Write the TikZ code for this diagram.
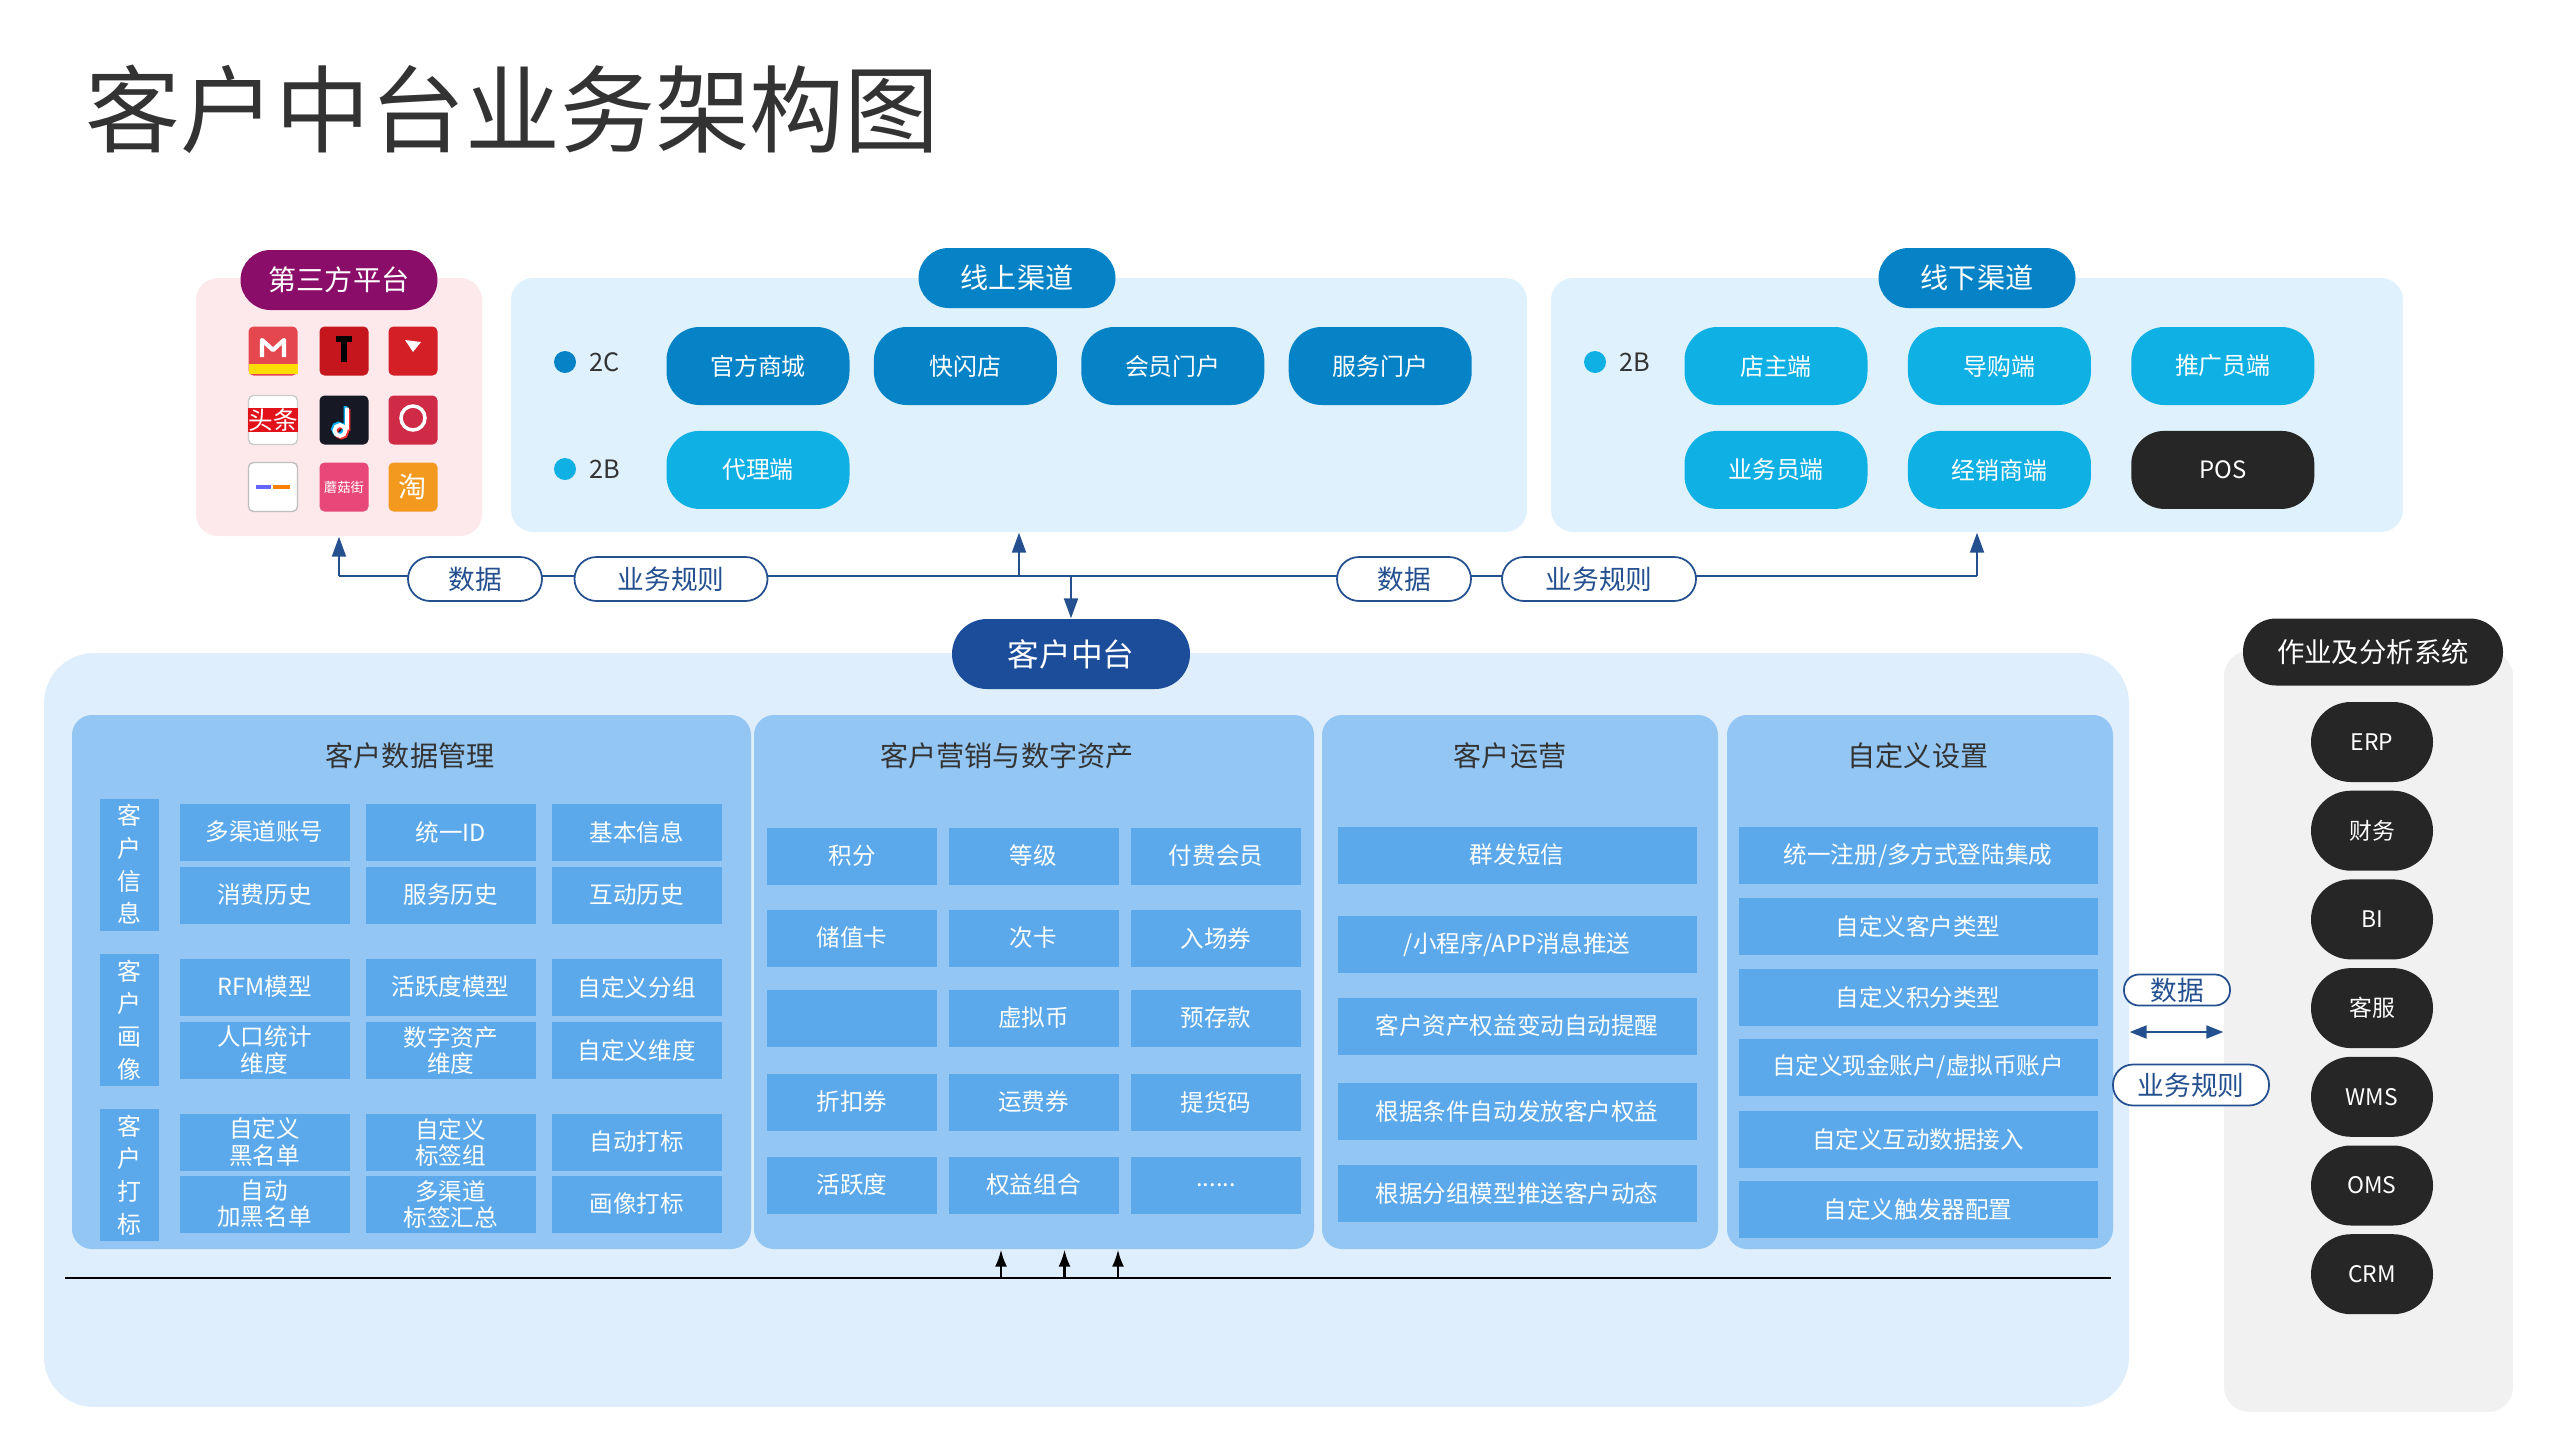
\documentclass[tikz,border=0pt]{standalone}
\usepackage{fontspec}
\setmainfont{Noto Sans CJK SC}
\usepackage{tikz}
\usetikzlibrary{positioning, arrows.meta}

\definecolor{chanblue}{HTML}{0683C6}
\definecolor{chancyan}{HTML}{0FB0E3}
\definecolor{hubblue}{HTML}{1B4D9B}
\definecolor{linkblue}{HTML}{24508F}
\definecolor{plum}{HTML}{8B0D6A}
\definecolor{pinkbg}{HTML}{FDE8EC}
\definecolor{chanbg}{HTML}{DFF1FC}
\definecolor{hubbg}{HTML}{DFEEFC}
\definecolor{panelblue}{HTML}{93C6F3}
\definecolor{cellblue}{HTML}{5BA9EB}
\definecolor{inkgray}{HTML}{333333}
\definecolor{sysblack}{HTML}{262626}
\definecolor{sysgray}{HTML}{F1F1F1}

\begin{document}
\begin{tikzpicture}[x=1cm, y=-1cm,
    area/.style={rectangle, rounded corners=0.22cm, inner sep=0pt},
    headpill/.style={rectangle, rounded corners=0.3cm, minimum width=1.97cm, minimum height=0.6cm, inner sep=0pt, text=white, font=\fontsize{8}{9}\selectfont},
    chan/.style={rectangle, rounded corners=0.33cm, minimum width=1.83cm, minimum height=0.78cm, inner sep=0pt, text=white, font=\fontsize{6.8}{8}\selectfont},
    dot/.style={circle, minimum size=0.22cm, inner sep=0pt},
    legend/.style={inner sep=0pt, text=inkgray, font=\fontsize{7.2}{9}\selectfont},
    tag/.style={rectangle, rounded corners=0.22cm, draw=linkblue, line width=0.5pt, fill=white, text=linkblue, minimum height=0.44cm, inner sep=1pt, font=\fontsize{7.6}{9}\selectfont},
    hubpill/.style={rectangle, rounded corners=0.35cm, fill=hubblue, text=white, minimum width=2.38cm, minimum height=0.7cm, inner sep=0pt, font=\fontsize{9}{10}\selectfont},
    panel/.style={rectangle, rounded corners=0.2cm, fill=panelblue, minimum height=5.34cm, inner sep=0pt},
    paneltitle/.style={inner sep=0pt, text=inkgray, font=\fontsize{8}{9}\selectfont},
    cell/.style={rectangle, fill=cellblue, text=white, minimum width=1.7cm, minimum height=0.57cm, inner sep=0pt, align=center, font=\fontsize{6.7}{7.4}\selectfont},
    widecell/.style={cell, minimum width=3.59cm},
    sidetag/.style={cell, minimum width=0.59cm, minimum height=1.32cm, font=\fontsize{6.8}{9.3}\selectfont},
    syshead/.style={rectangle, rounded corners=0.33cm, fill=sysblack, text=white, minimum width=2.6cm, minimum height=0.67cm, inner sep=0pt, font=\fontsize{7.8}{9}\selectfont},
    sys/.style={rectangle, rounded corners=0.4cm, fill=sysblack, text=white, minimum width=1.22cm, minimum height=0.8cm, inner sep=0pt, font=\fontsize{6.5}{8}\selectfont},
    icon/.style={rectangle, rounded corners=0.05cm, minimum size=0.49cm, inner sep=0pt},
    link/.style={linkblue, line width=0.6pt},
    tip/.style={-{Triangle[length=0.2cm, width=0.14cm]}}
]

\useasboundingbox (0,0) rectangle (25.6,14.4);

\node[anchor=west, inner sep=0pt, text=inkgray, font=\fontsize{27}{30}\selectfont] (title) at (0.85,1.09) {客户中台业务架构图};

\node[area, fill=pinkbg, minimum width=2.86cm, minimum height=2.58cm] (third) at (3.39,4.07) {};
\node[area, fill=chanbg, minimum width=10.16cm, minimum height=2.54cm] (online) at (10.19,4.05) {};
\node[area, fill=chanbg, minimum width=8.52cm, minimum height=2.54cm] (offline) at (19.77,4.05) {};

\node[headpill, fill=plum] (thirdHead) at (3.39,2.80) {第三方平台};
\node[headpill, fill=chanblue] (onlineHead) at (10.17,2.78) {线上渠道};
\node[headpill, fill=chanblue] (offlineHead) at (19.77,2.78) {线下渠道};

\node[icon, fill={rgb,255:red,229;green,71;blue,79}] (icMall) at (2.73,3.51) {};
\fill[yellow!80!orange] (2.485,3.64) rectangle (2.975,3.74);
\draw[white, line width=1.2pt, line join=round] (2.62,3.57) -- (2.62,3.40) -- (2.73,3.50) -- (2.84,3.40) -- (2.84,3.57);
\node[icon, fill={rgb,255:red,196;green,22;blue,28}] (icTmall) at (3.44,3.51) {};
\fill[black] (3.36,3.36) rectangle (3.52,3.42);
\fill[black] (3.41,3.42) rectangle (3.47,3.62);
\node[icon, fill={rgb,255:red,212;green,31;blue,38}] (icJd) at (4.13,3.51) {};
\fill[white] (4.05,3.40) -- (4.21,3.42) -- (4.13,3.52) -- cycle;
\node[icon, fill=white, draw=gray!40] (icNews) at (2.73,4.20) {};
\node[fill={rgb,255:red,226;green,18;blue,26}, text=white, minimum width=0.49cm, minimum height=0.24cm, inner sep=0pt, font=\fontsize{7}{8}\selectfont] (icNewsTxt) at (2.73,4.20) {头条};
\node[icon, fill={rgb,255:red,22;green,24;blue,35}] (icTok) at (3.44,4.20) {};
\draw[cyan, line width=1.1pt] (3.455,4.06) -- (3.455,4.28) (3.385,4.29) circle (0.055);
\draw[red!80, line width=1.1pt] (3.485,4.09) -- (3.485,4.31) (3.415,4.32) circle (0.055);
\draw[white, line width=1.1pt] (3.47,4.075) -- (3.47,4.295) (3.40,4.305) circle (0.055);
\node[icon, fill={rgb,255:red,207;green,43;blue,71}] (icKoala) at (4.13,4.20) {};
\draw[white, line width=1pt] (4.13,4.18) circle (0.12);
\node[icon, fill=white, draw=gray!50] (icShop) at (2.73,4.87) {};
\fill[blue!60] (2.56,4.85) rectangle (2.71,4.89);
\fill[orange] (2.73,4.85) rectangle (2.90,4.89);
\node[icon, fill={rgb,255:red,232;green,71;blue,122}, text=white, font=\fontsize{3.8}{4}\selectfont] (icMogu) at (3.44,4.87) {蘑菇街};
\node[icon, fill={rgb,255:red,243;green,154;blue,30}, text=white, font=\fontsize{8}{9}\selectfont] (icTao) at (4.13,4.87) {淘};

\node[dot, fill=chanblue] (dot2C) at (5.65,3.62) {};
\node[legend, right=0.12cm of dot2C] (lbl2C) {2C};
\node[dot, fill=chancyan] (dot2B) at (5.65,4.69) {};
\node[legend, right=0.12cm of dot2B] (lbl2B) {2B};

\node[chan, fill=chanblue] (shop) at (7.58,3.66) {官方商城};
\node[chan, fill=chanblue, right=0.23cm of shop] (popup) {快闪店};
\node[chan, fill=chanblue, right=0.23cm of popup] (member) {会员门户};
\node[chan, fill=chanblue, right=0.23cm of member] (service) {服务门户};
\node[chan, fill=chancyan, below=0.245cm of shop] (agent) {代理端};

\node[dot, fill=chancyan] (dotOff) at (15.95,3.62) {};
\node[legend, right=0.12cm of dotOff] (lblOff) {2B};

\node[chan, fill=chancyan] (owner) at (17.76,3.66) {店主端};
\node[chan, fill=chancyan, right=0.39cm of owner] (guide) {导购端};
\node[chan, fill=chancyan, right=0.39cm of guide] (promoter) {推广员端};
\node[chan, fill=chancyan, below=0.245cm of owner] (sales) {业务员端};
\node[chan, fill=chancyan, below=0.245cm of guide] (dealer) {经销商端};
\node[chan, fill=sysblack, below=0.245cm of promoter] (pos) {POS};

\node[area, rounded corners=0.5cm, fill=hubbg, minimum width=20.85cm, minimum height=7.54cm] (hubbg) at (10.865,10.30) {};
\node[area, rounded corners=0.25cm, fill=sysgray, minimum width=2.89cm, minimum height=7.61cm] (sysbg) at (23.685,10.315) {};

\coordinate (bus) at (0,5.76);
\node[hubpill] (hub) at (10.71,6.54) {客户中台};
\draw[link] (third.south |- bus) -- (offline.south |- bus);
\draw[link, tip] (third.south |- bus) -- (third.south);
\draw[link, tip] (online.south |- bus) -- (online.south);
\draw[link, tip] (offline.south |- bus) -- (offline.south);
\draw[link, tip] (hub.north |- bus) -- (hub.north);

\node[tag, minimum width=1.34cm] (data1) at (4.75,5.79) {数据};
\node[tag, minimum width=1.93cm] (rule1) at (6.71,5.79) {业务规则};
\node[tag, minimum width=1.34cm] (data2) at (14.04,5.79) {数据};
\node[tag, minimum width=1.94cm] (rule2) at (15.99,5.79) {业务规则};

\node[panel, minimum width=6.79cm] (pData) at (4.115,9.82) {};
\node[panel, minimum width=5.60cm] (pMkt) at (10.34,9.82) {};
\node[panel, minimum width=3.96cm] (pOps) at (15.20,9.82) {};
\node[panel, minimum width=3.86cm] (pSet) at (19.20,9.82) {};

\node[paneltitle] (tData) at (4.10,7.56) {客户数据管理};
\node[paneltitle] (tMkt) at (10.07,7.56) {客户营销与数字资产};
\node[paneltitle] (tOps) at (15.10,7.56) {客户运营};
\node[paneltitle] (tSet) at (19.18,7.56) {自定义设置};

\node[sidetag] (sInfo) at (1.29,8.645) {客\\户\\信\\息};
\node[sidetag] (sPortrait) at (1.29,10.20) {客\\户\\画\\像};
\node[sidetag] (sLabel) at (1.29,11.75) {客\\户\\打\\标};

\foreach \y/\a/\b/\c [count=\r] in {8.32/多渠道账号/统一ID/基本信息, 8.95/消费历史/服务历史/互动历史, 9.87/RFM模型/活跃度模型/自定义分组, 10.50/{人口统计\\维度}/{数字资产\\维度}/自定义维度, 11.42/{自定义\\黑名单}/{自定义\\标签组}/自动打标, 12.04/{自动\\加黑名单}/{多渠道\\标签汇总}/画像打标}{
  \node[cell] (dm-\r-1) at (2.645,\y) {\a};
  \node[cell] (dm-\r-2) at (4.506,\y) {\b};
  \node[cell] (dm-\r-3) at (6.367,\y) {\c};
}

\foreach \y/\a/\b/\c [count=\r] in {8.56/积分/等级/付费会员, 9.38/储值卡/次卡/入场券, 10.18//虚拟币/预存款, 11.02/折扣券/运费券/提货码, 11.85/活跃度/权益组合/{......}}{
  \node[cell] (mk-\r-1) at (8.52,\y) {\a};
  \node[cell] (mk-\r-2) at (10.335,\y) {\b};
  \node[cell] (mk-\r-3) at (12.16,\y) {\c};
}

\foreach \y/\t [count=\r] in {8.55/群发短信, 9.445/{/小程序/APP消息推送}, 10.26/客户资产权益变动自动提醒, 11.11/根据条件自动发放客户权益, 11.93/根据分组模型推送客户动态}
  \node[widecell] (op-\r) at (15.17,\y) {\t};

\foreach \y/\t [count=\r] in {8.555/{统一注册/多方式登陆集成}, 9.265/自定义客户类型, 9.97/自定义积分类型, 10.67/{自定义现金账户/虚拟币账户}, 11.39/自定义互动数据接入, 12.09/自定义触发器配置}
  \node[widecell] (st-\r) at (19.18,\y) {\t};

\coordinate (baseL) at (0.65,12.78);
\coordinate (baseR) at (21.11,12.78);
\draw[black, line width=0.5pt] (baseL) -- (baseR);
\foreach \x [count=\i] in {10.01, 10.645, 11.18}{
  \coordinate (foot\i) at (\x,12.78);
  \draw[black, line width=0.6pt, -{Latex[length=0.17cm, width=0.12cm]}] (foot\i) -- (foot\i |- pMkt.south);
}

\node[syshead] (sysHead) at (23.73,6.52) {作业及分析系统};
\foreach \s [count=\i from 0] in {ERP, 财务, BI, 客服, WMS, OMS, CRM}
  \node[sys] (sys\i) at (23.72,{7.42+0.887*\i}) {\s};

\coordinate (dbl) at (0,10.32);
\draw[link, {Triangle[length=0.17cm, width=0.13cm]}-{Triangle[length=0.17cm, width=0.13cm]}] (hubbg.east |- dbl) -- (sysbg.west |- dbl);
\node[tag, rounded corners=0.15cm, minimum width=1.06cm, minimum height=0.31cm, inner sep=0pt] (data3) at (21.77,9.90) {数据};
\node[tag, rounded corners=0.2cm, minimum width=1.56cm, minimum height=0.41cm, inner sep=0pt] (rule3) at (21.91,10.85) {业务规则};

\end{tikzpicture}
\end{document}
